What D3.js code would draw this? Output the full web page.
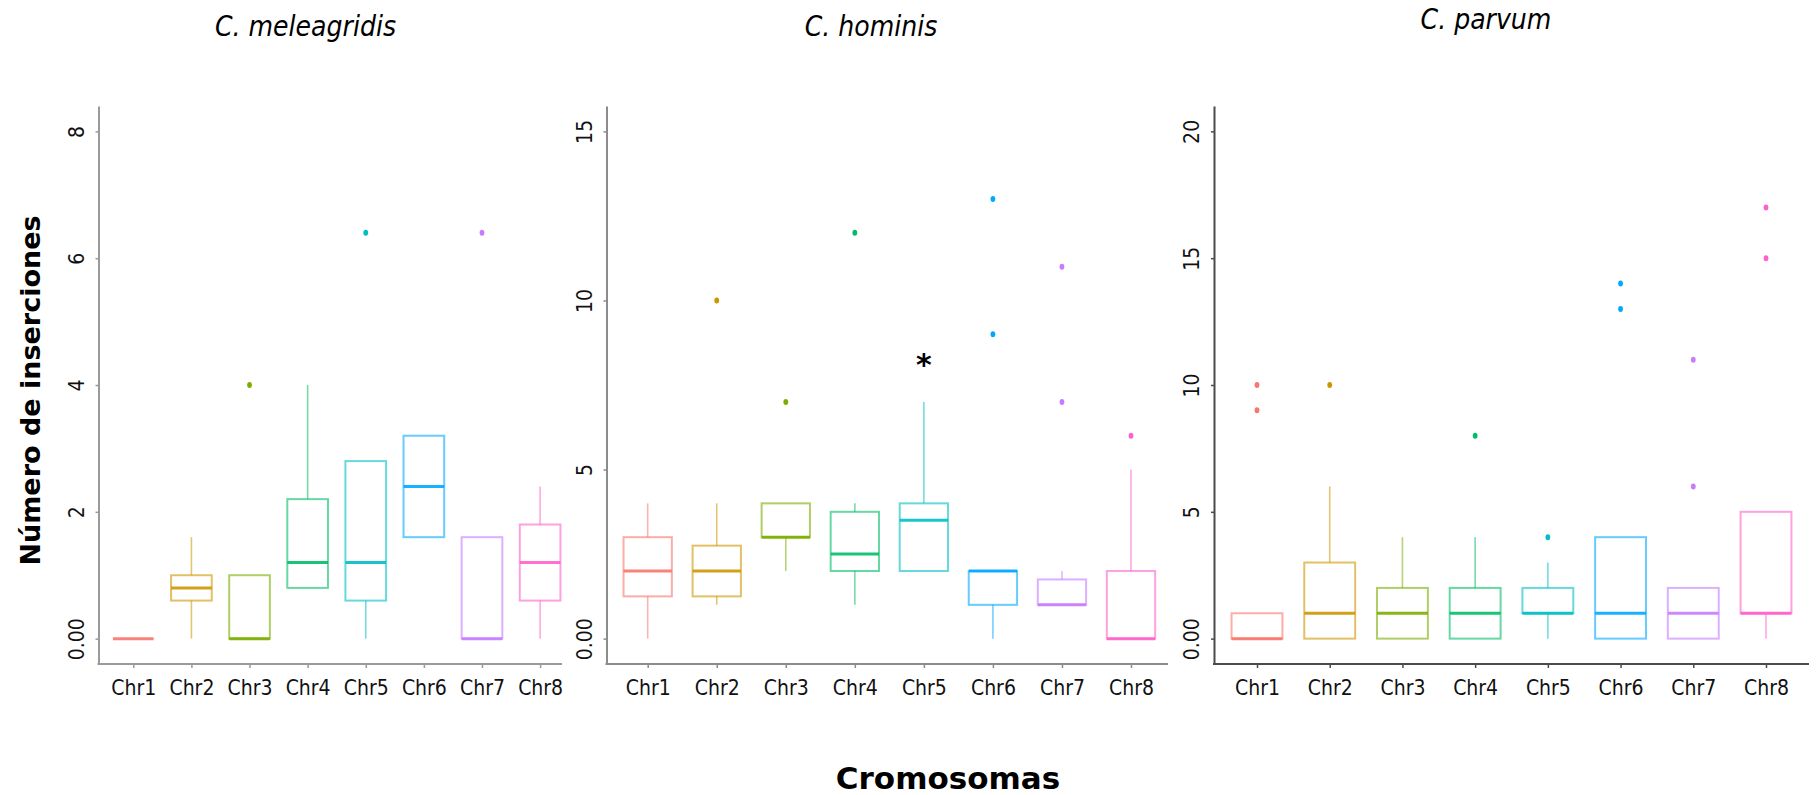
<!DOCTYPE html>
<html>
<head>
<meta charset="utf-8">
<script src="https://cdn.jsdelivr.net/npm/d3@7"></script>
<style>
  html, body { margin: 0; padding: 0; background: #fff; }
  svg { display: block; }
</style>
</head>
<body>
<svg id="chart" width="1816" height="795"></svg>
<script>
// ---------------- DATA ----------------
const categories = ["Chr1", "Chr2", "Chr3", "Chr4", "Chr5", "Chr6", "Chr7", "Chr8"];
const panelTitles = ["C. meleagridis", "C. hominis", "C. parvum"];
const xAxisTitle = "Cromosomas";
const yAxisTitle = "Número de inserciones";

// C. meleagridis
const meleagridisQ1 = [0, 0.6, 0, 0.8, 0.6, 1.6, 0, 0.6];
const meleagridisMedian = [0, 0.8, 0, 1.2, 1.2, 2.4, 0, 1.2];
const meleagridisQ3 = [0, 1.0, 1.0, 2.2, 2.8, 3.2, 1.6, 1.8];
const meleagridisLow = [0, 0, 0, 0.8, 0, 1.6, 0, 0];
const meleagridisHigh = [0, 1.6, 1.0, 4.0, 2.8, 3.2, 1.6, 2.4];
const meleagridisOutliers = [[], [], [4], [], [6.4], [], [6.4], []];
const meleagridisTicks = [0, 2, 4, 6, 8];
const meleagridisTickLabels = ["0.00", "2", "4", "6", "8"];
const meleagridisDomain = [-0.4, 8.4];

// C. hominis
const hominisQ1 = [1.25, 1.25, 3, 2, 2, 1, 1, 0];
const hominisMedian = [2, 2, 3, 2.5, 3.5, 2, 1, 0];
const hominisQ3 = [3, 2.75, 4, 3.75, 4, 2, 1.75, 2];
const hominisLow = [0, 1, 2, 1, 2, 0, 1, 0];
const hominisHigh = [4, 4, 4, 4, 7, 2, 2, 5];
const hominisOutliers = [[], [10], [7], [12], [], [9, 13], [7, 11], [6]];
const hominisTicks = [0, 5, 10, 15];
const hominisTickLabels = ["0.00", "5", "10", "15"];
const hominisDomain = [-0.75, 15.75];
const hominisMarkCategory = "Chr5";
const hominisMarkValue = 8.3;

// C. parvum
const parvumQ1 = [0, 0, 0, 0, 1, 0, 0, 1];
const parvumMedian = [0, 1, 1, 1, 1, 1, 1, 1];
const parvumQ3 = [1, 3, 2, 2, 2, 4, 2, 5];
const parvumLow = [0, 0, 0, 0, 0, 0, 0, 0];
const parvumHigh = [1, 6, 4, 4, 3, 4, 2, 5];
const parvumOutliers = [[9, 10], [10], [], [8], [4], [13, 14], [6, 11], [15, 17]];
const parvumTicks = [0, 5, 10, 15, 20];
const parvumTickLabels = ["0.00", "5", "10", "15", "20"];
const parvumDomain = [-1, 21];

const palette = ["#F8766D", "#CD9600", "#7CAE00", "#00BE67", "#00BFC4", "#00A9FF", "#C77CFF", "#FF61CC"];

// ---------------- LAYOUT ----------------
const yTop = 106, yBottom = 664;
const layouts = [
  { axisX: 98.5, first: 133.3, last: 540.1, axisEnd: 562, axisColor: "#9a9a9a", titleX: 305.5, titleY: 36 },
  { axisX: 606.5, first: 647.7, last: 1131, axisEnd: 1168, axisColor: "#8c8c8c", titleX: 871, titleY: 36 },
  { axisX: 1214, first: 1257, last: 1766, axisEnd: 1809, axisColor: "#4a4a4a", titleX: 1486, titleY: 29 }
];

const panels = [
  { q1: meleagridisQ1, med: meleagridisMedian, q3: meleagridisQ3, lo: meleagridisLow, hi: meleagridisHigh, out: meleagridisOutliers, ticks: meleagridisTicks, labels: meleagridisTickLabels, domain: meleagridisDomain },
  { q1: hominisQ1, med: hominisMedian, q3: hominisQ3, lo: hominisLow, hi: hominisHigh, out: hominisOutliers, ticks: hominisTicks, labels: hominisTickLabels, domain: hominisDomain },
  { q1: parvumQ1, med: parvumMedian, q3: parvumQ3, lo: parvumLow, hi: parvumHigh, out: parvumOutliers, ticks: parvumTicks, labels: parvumTickLabels, domain: parvumDomain }
];

const svg = d3.select("#chart");
svg.append("rect").attr("width", 1816).attr("height", 795).attr("fill", "#fff");

const tickFont = "'DejaVu Sans Condensed', 'DejaVu Sans', sans-serif";

panels.forEach((p, pi) => {
  const L = layouts[pi];
  const x = d3.scalePoint().domain(categories).range([L.first, L.last]);
  const y = d3.scaleLinear().domain(p.domain).range([yBottom, yTop]);
  const step = x.step();
  const bw = step * 0.7;
  const g = svg.append("g");

  // y axis
  const yAxis = d3.axisLeft(y)
    .tickValues(p.ticks)
    .tickFormat((d, i) => p.labels[i])
    .tickSize(3)
    .tickSizeOuter(0);
  const ya = g.append("g").attr("transform", `translate(${L.axisX},0)`).call(yAxis);
  ya.select(".domain").attr("stroke", L.axisColor).attr("stroke-width", 2);
  ya.selectAll(".tick line").attr("stroke", L.axisColor).attr("stroke-width", 1.5);
  ya.selectAll(".tick text")
    .attr("transform", "rotate(-90)")
    .attr("x", 0).attr("y", -15).attr("dy", 0)
    .attr("text-anchor", "middle")
    .attr("fill", "#111")
    .style("font-family", tickFont)
    .style("font-size", "21px");

  // x axis
  const xAxis = d3.axisBottom(x).tickSize(4).tickSizeOuter(0);
  const xa = g.append("g").attr("transform", `translate(0,${yBottom})`).call(xAxis);
  xa.select(".domain").remove();
  xa.append("line")
    .attr("x1", L.axisX - 1).attr("x2", L.axisEnd)
    .attr("y1", 0).attr("y2", 0)
    .attr("stroke", L.axisColor).attr("stroke-width", 2);
  xa.selectAll(".tick line").attr("stroke", L.axisColor).attr("stroke-width", 1.5);
  xa.selectAll(".tick text")
    .attr("y", 31).attr("dy", 0)
    .attr("fill", "#111")
    .style("font-family", tickFont)
    .style("font-size", "21px");

  // boxes
  categories.forEach((c, i) => {
    const cx = x(c);
    const col = palette[i];
    const bg = g.append("g");
    if (p.hi[i] > p.q3[i]) {
      bg.append("line").attr("x1", cx).attr("x2", cx)
        .attr("y1", y(p.q3[i])).attr("y2", y(p.hi[i]))
        .attr("stroke", col).attr("stroke-opacity", 0.55).attr("stroke-width", 1.6);
    }
    if (p.lo[i] < p.q1[i]) {
      bg.append("line").attr("x1", cx).attr("x2", cx)
        .attr("y1", y(p.q1[i])).attr("y2", y(p.lo[i]))
        .attr("stroke", col).attr("stroke-opacity", 0.55).attr("stroke-width", 1.6);
    }
    bg.append("rect")
      .attr("x", cx - bw / 2).attr("width", bw)
      .attr("y", y(p.q3[i])).attr("height", Math.max(0, y(p.q1[i]) - y(p.q3[i])))
      .attr("fill", "none")
      .attr("stroke", col).attr("stroke-opacity", 0.6).attr("stroke-width", 2);
    bg.append("line")
      .attr("x1", cx - bw / 2).attr("x2", cx + bw / 2)
      .attr("y1", y(p.med[i])).attr("y2", y(p.med[i]))
      .attr("stroke", col).attr("stroke-opacity", 0.9).attr("stroke-width", 3);
    p.out[i].forEach(v => {
      bg.append("ellipse")
        .attr("cx", cx).attr("cy", y(v))
        .attr("rx", 2.4).attr("ry", 3)
        .attr("fill", col);
    });
  });

  if (pi === 1) {
    g.append("text")
      .attr("x", x(hominisMarkCategory))
      .attr("y", y(hominisMarkValue) + 17)
      .attr("text-anchor", "middle")
      .style("font-family", "'DejaVu Sans', sans-serif")
      .style("font-weight", "bold")
      .style("font-size", "30px")
      .attr("fill", "#000")
      .text("*");
  }

  // panel title
  svg.append("text")
    .attr("x", L.titleX).attr("y", L.titleY)
    .attr("text-anchor", "middle")
    .style("font-family", tickFont)
    .style("font-style", "italic")
    .style("font-size", "28px")
    .attr("fill", "#000")
    .text(panelTitles[pi]);
});

// axis titles
svg.append("text")
  .attr("x", 948).attr("y", 789)
  .attr("text-anchor", "middle")
  .style("font-family", "'DejaVu Sans', sans-serif")
  .style("font-weight", "bold")
  .style("font-size", "31px")
  .attr("fill", "#000")
  .text(xAxisTitle);

svg.append("text")
  .attr("transform", "translate(39.5,390.5) rotate(-90)")
  .attr("text-anchor", "middle")
  .style("font-family", "'DejaVu Sans', sans-serif")
  .style("font-weight", "bold")
  .style("font-size", "27px")
  .attr("fill", "#000")
  .text(yAxisTitle);
</script>
</body>
</html>
